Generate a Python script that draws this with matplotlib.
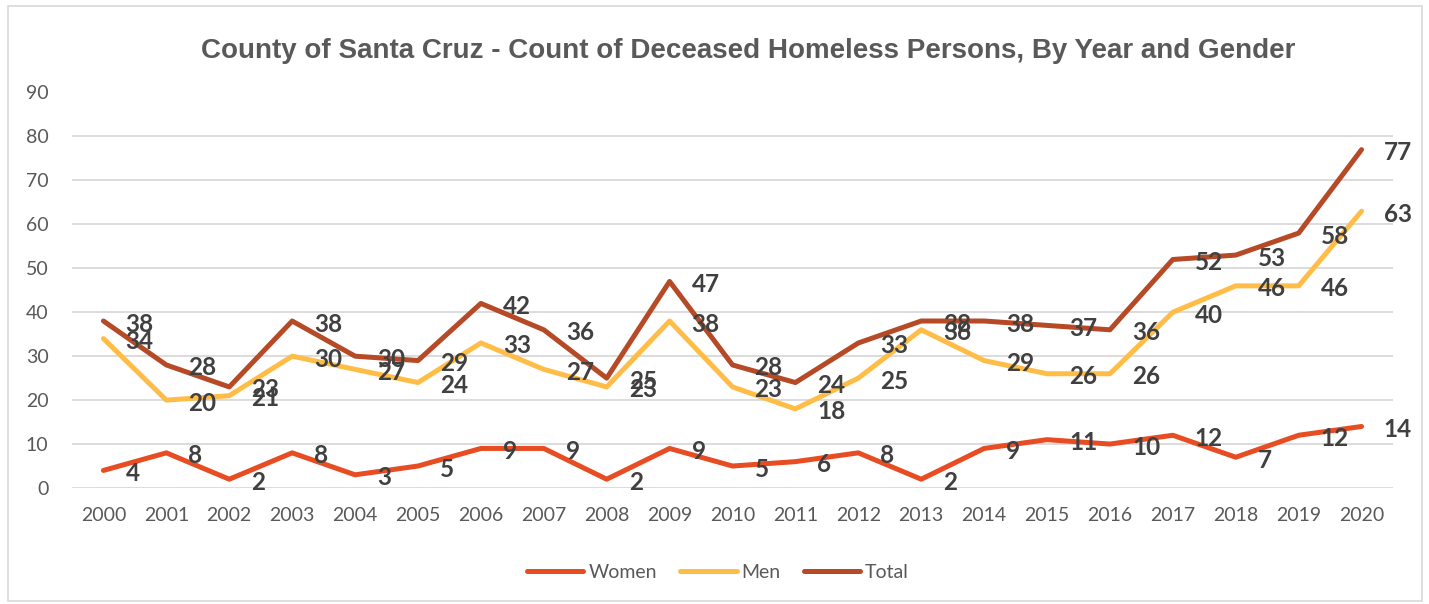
import numpy as np
import matplotlib
matplotlib.use('Agg')
import matplotlib.pyplot as plt
from matplotlib.patches import Rectangle

# Data
years = [str(y) for y in range(2000, 2021)]
women = [4, 8, 2, 8, 3, 5, 9, 9, 2, 9, 5, 6, 8, 2, 9, 11, 10, 12, 7, 12, 14]
men = [34, 20, 21, 30, 27, 24, 33, 27, 23, 38, 23, 18, 25, 36, 29, 26, 26, 40, 46, 46, 63]
total = [38, 28, 23, 38, 30, 29, 42, 36, 25, 47, 28, 24, 33, 38, 38, 37, 36, 52, 53, 58, 77]
yticks = list(range(0, 100, 10))

series = [
    ('Women', women, '#E84C22'),
    ('Men', men, '#FFBD47'),
    ('Total', total, '#B64926'),
]

W, H = 1429, 604
fig = plt.figure(figsize=(W / 100, H / 100), dpi=100)
ax = fig.add_axes([72 / W, (H - 488) / H, (1393 - 72) / W, (488 - 92.5) / H])

x = np.arange(len(years))
for name, vals, color in series:
    ax.plot(x, vals, color=color, lw=3.6, label=name,
            solid_capstyle='round', solid_joinstyle='round', zorder=3)

# data labels to the right of each point
for name, vals, color in series:
    for xi, v in zip(x, vals):
        ax.annotate(str(v), (xi, v), xytext=(22, -3), textcoords='offset pixels',
                    ha='left', va='center', fontsize=17.5, fontweight='bold',
                    family='Lato', color='#404040', zorder=5)

ax.set_xlim(-0.5, len(years) - 0.5)
ax.set_ylim(0, 90)
ax.set_xticks(x)
ax.set_xticklabels(years)
ax.set_yticks(yticks)
ax.tick_params(axis='both', length=0, labelsize=14, labelcolor='#595959')
ax.tick_params(axis='y', pad=17)
ax.tick_params(axis='x', pad=14)
for lab in ax.get_xticklabels() + ax.get_yticklabels():
    lab.set_family('Lato')
ax.grid(axis='y', color='#D9D9D9', lw=1.3)
ax.set_axisbelow(True)
for s in ax.spines.values():
    s.set_visible(False)

fig.text(748 / W, 1 - 51 / H,
         'County of Santa Cruz - Count of Deceased Homeless Persons, By Year and Gender',
         ha='center', va='center', fontsize=20, fontweight='bold',
         family='Liberation Sans', color='#595959')

leg = fig.legend(loc='center', bbox_to_anchor=(718 / W, 1 - 572 / H), ncol=3,
                 frameon=False, handlelength=2.9, handletextpad=0.25,
                 columnspacing=1.2, prop={'family': 'Lato', 'size': 14})
for t in leg.get_texts():
    t.set_color('#595959')

# outer chart border
fig.patches.append(Rectangle((8 / W, 3 / H), (1422 - 8) / W, (H - 6 - 3) / H,
                             transform=fig.transFigure, fill=False,
                             edgecolor='#D9D9D9', lw=1.2))

fig.savefig('out.png', dpi=100)
